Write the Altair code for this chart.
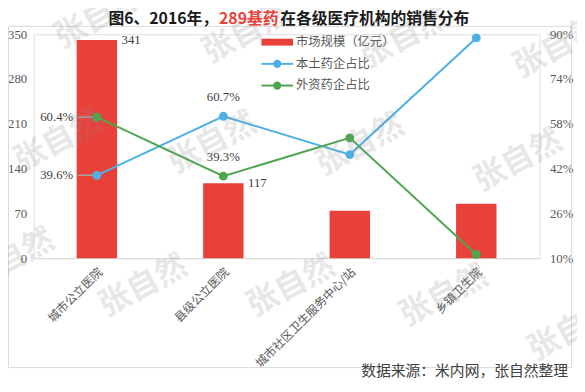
import altair as alt
import pandas as pd

# ---- data ----
cats = ["城市公立医院", "县级公立医院", "城市社区卫生服务中心/站", "乡镇卫生院"]
market = [341, 117, 74, 85]
domestic = [39.6, 60.7, 47.0, 88.7]
foreign = [60.4, 39.3, 53.0, 11.3]
series_names = ["本土药企占比", "外资药企占比"]
legend_names = ["市场规模（亿元）", "本土药企占比", "外资药企占比"]
left_ticks = [0, 70, 140, 210, 280, 350]
right_ticks = [10, 26, 42, 58, 74, 90]
title_parts = ["图6、2016年，", "289基药", "在各级医疗机构的销售分布"]
source_text = "数据来源：米内网，张自然整理"
watermark_text = "张自然"

# ---- style / layout ----
RED = "#E8413A"
BLUE = "#4DB1E6"
GREEN = "#4EA64F"
GREY_TXT = "#595959"
W, H = 513, 227
CJK = "Noto Sans CJK SC"
SERIF = "Liberation Serif"
watermark_pos = [(66, -17), (216, -2), (376, 3), (531, 13),
                 (25, 108), (181, 110), (331, 112), (491, 128),
                 (-24, 228), (111, 255), (261, 255), (416, 265), (546, 300)]

bars_df = pd.DataFrame({"cat": cats, "market": market, "idx": range(len(cats))})
rows = []
for i, c in enumerate(cats):
    rows.append({"cat": c, "series": series_names[0], "value": domestic[i], "idx": i,
                 "label": f"{domestic[i]:.1f}%"})
    rows.append({"cat": c, "series": series_names[1], "value": foreign[i], "idx": i,
                 "label": f"{foreign[i]:.1f}%"})
lines_df = pd.DataFrame(rows)

x_enc = alt.X("cat:N", sort=cats, title=None,
              scale=alt.Scale(paddingInner=0, paddingOuter=0),
              axis=alt.Axis(labelAngle=-45, labelFont=CJK, labelFontSize=12,
                            labelColor=GREY_TXT, ticks=False, domainColor="#D9D9D9",
                            domainWidth=1, labelPadding=8, labelLimit=300,
                            labelOverlap=False))

y_left = alt.Y("market:Q", title=None,
               scale=alt.Scale(domain=[0, 350], nice=False),
               axis=alt.Axis(orient="left", values=left_ticks, domain=False, ticks=False,
                             grid=False, labelFont=SERIF, labelFontSize=13,
                             labelColor=GREY_TXT, labelPadding=7))

y_right = alt.Y("value:Q", title=None,
                scale=alt.Scale(domain=[10, 90], nice=False, zero=False),
                axis=alt.Axis(orient="right", values=right_ticks, domain=False, ticks=False,
                              grid=False, labelFont=SERIF, labelFontSize=13,
                              labelColor=GREY_TXT, labelPadding=10,
                              labelExpr="datum.value + '%'"))

color_enc = alt.Color("series:N", scale=alt.Scale(domain=series_names, range=[BLUE, GREEN]),
                      legend=None)


def deco_text(text, x, y, **kw):
    return alt.Chart(pd.DataFrame({"t": [text]})).mark_text(**kw).encode(
        text="t:N", x=alt.value(x), y=alt.value(y))


border = alt.Chart(pd.DataFrame({"a": [0]})).mark_rect(
    fillOpacity=0, stroke="#D9D9D9", strokeWidth=1).encode(
    x=alt.value(-25.5), x2=alt.value(545.5), y=alt.value(-8), y2=alt.value(338))

bars = alt.Chart(bars_df).mark_bar(size=41, color=RED).encode(x=x_enc, y=y_left)
bar_text = alt.Chart(bars_df).transform_filter("datum.idx < 2").mark_text(
    align="left", baseline="middle", dx=25, font=SERIF, fontSize=13, color="#404040").encode(
    x=x_enc, y=y_left, text="market:Q")

TY = -15
title1 = deco_text(title_parts[0], 187, TY, align="right", baseline="middle", font=CJK,
                   fontSize=16, fontWeight="bold", color="#1A1A1A")
title2 = deco_text(title_parts[1], 188, TY, align="left", baseline="middle", font=CJK,
                   fontSize=16, fontWeight="bold", color=RED)
title3 = deco_text(title_parts[2], 250, TY, align="left", baseline="middle", font=CJK,
                   fontSize=16, fontWeight="bold", color="#1A1A1A")

src = deco_text(source_text, 542, 350, align="right", baseline="bottom", font=CJK,
                fontSize=15, color="#404040")

# legend (manual)
leg_rect = alt.Chart(pd.DataFrame({"a": [0]})).mark_rect(color=RED).encode(
    x=alt.value(231), x2=alt.value(263), y=alt.value(4.5), y2=alt.value(11.5))
leg_layers = [leg_rect]
for yy, col in [(30, BLUE), (52, GREEN)]:
    leg_layers.append(alt.Chart(pd.DataFrame({"a": [0]})).mark_rule(color=col, strokeWidth=2).encode(
        x=alt.value(231), x2=alt.value(263), y=alt.value(yy)))
    leg_layers.append(alt.Chart(pd.DataFrame({"a": [0]})).mark_point(
        filled=True, color=col, size=70, opacity=1).encode(x=alt.value(247), y=alt.value(yy)))
for name, yy in zip(legend_names, [8, 30, 52]):
    leg_layers.append(deco_text(name, 266, yy, align="left", baseline="middle", font=CJK,
                                fontSize=12.5, color=GREY_TXT))

left_group = alt.layer(border, bars, bar_text, *leg_layers)

lines = alt.Chart(lines_df).mark_line(strokeWidth=2).encode(
    x=x_enc, y=y_right, color=color_enc, detail="series:N")
leaders = alt.Chart(lines_df).transform_filter("datum.idx == 0").mark_point(
    shape="M-1,0L0,0", size=1444, filled=False, stroke="#A6A6A6", strokeWidth=1.5,
    opacity=1).encode(x=x_enc, y=y_right)
points = alt.Chart(lines_df).mark_point(filled=True, size=80, opacity=1).encode(
    x=x_enc, y=y_right, color=color_enc)
lab0 = alt.Chart(lines_df).transform_filter("datum.idx == 0").mark_text(
    align="right", baseline="middle", dx=-24, font=SERIF, fontSize=13, color="#404040").encode(
    x=x_enc, y=y_right, text="label:N")
lab1 = alt.Chart(lines_df).transform_filter("datum.idx == 1").mark_text(
    align="center", baseline="middle", dy=-19, font=SERIF, fontSize=13, color="#404040").encode(
    x=x_enc, y=y_right, text="label:N")

wm_layers = [deco_text(watermark_text, px, py, align="center", baseline="middle", font=CJK,
                       fontSize=32, fontWeight="bold", angle=332, color="#8C8C8C",
                       opacity=0.2)
             for px, py in watermark_pos]

right_group = alt.layer(lines, leaders, points, lab0, lab1, *wm_layers,
                        title1, title2, title3, src)

chart = alt.layer(left_group, right_group).resolve_scale(y="independent").properties(
    width=W, height=H,
    padding={"left": 26, "top": 24, "right": 38, "bottom": 125},
    autosize=alt.AutoSizeParams(type="none"),
).configure_view(stroke=None).configure(background="white")

chart.save("out.html", embed_options={"renderer": "svg", "actions": False})
